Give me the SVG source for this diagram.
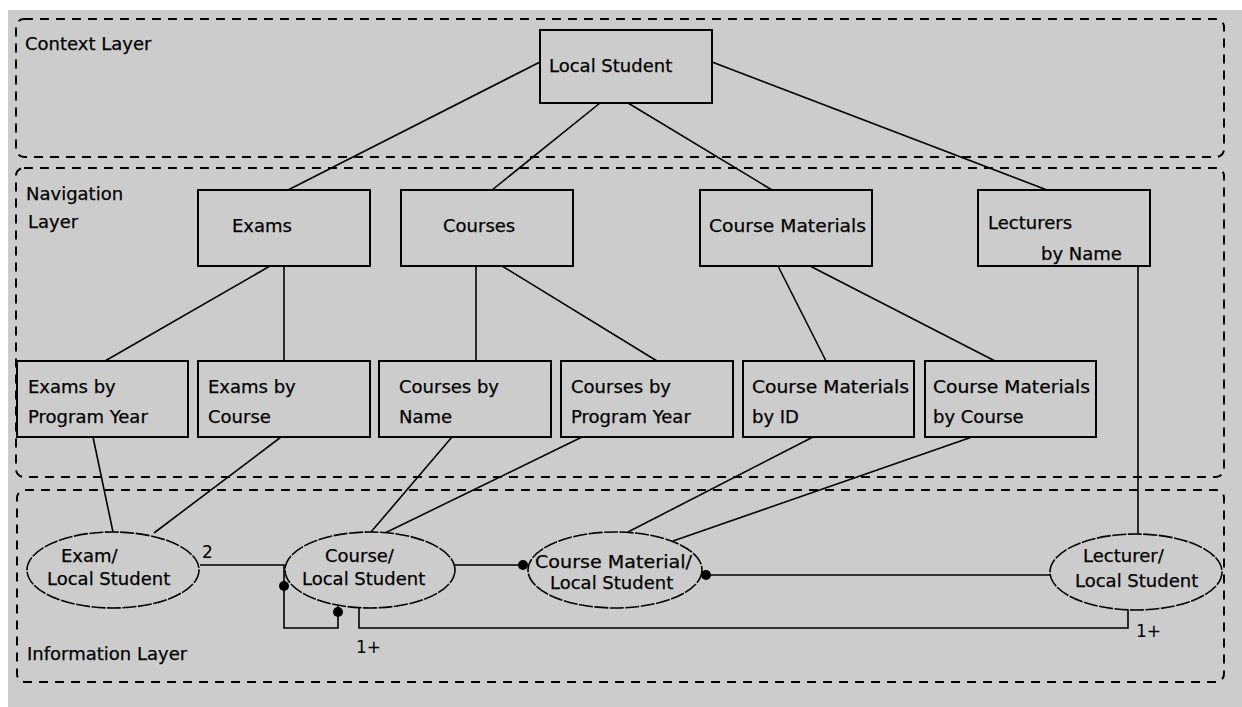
<svg xmlns="http://www.w3.org/2000/svg" width="1242" height="707" viewBox="0 0 1242 707">
<style>
.layer{fill:none;stroke:#000;stroke-width:2;stroke-dasharray:9,7}
.box{fill:#cccccc;stroke:#000;stroke-width:2}
.ell{fill:#cccccc;stroke:#000;stroke-width:1.6;stroke-dasharray:14,1.5}
.ln{fill:none;stroke:#000;stroke-width:1.6}
.t{font-family:"DejaVu Sans","Liberation Sans",sans-serif;font-size:18px;fill:#000;stroke:#000;stroke-width:0.25}
.lbl{font-family:"DejaVu Sans","Liberation Sans",sans-serif;font-size:17px;fill:#000}
.dot{fill:#000}
</style>
<rect x="8" y="10" width="1234" height="697" fill="#cccccc"/>
<g id="layers">
<rect class="layer" x="16" y="19" width="1208" height="138" rx="8"/>
<rect class="layer" x="16" y="168" width="1208" height="309" rx="8"/>
<rect class="layer" x="17" y="490" width="1207" height="192" rx="8"/>
<text class="t" x="25" y="50">Context Layer</text>
<text class="t" x="26" y="200">Navigation</text>
<text class="t" x="28" y="228">Layer</text>
<text class="t" x="27" y="660">Information Layer</text>
</g>
<g id="connectors">
<line class="ln" x1="540" y1="62" x2="288" y2="190"/>
<line class="ln" x1="600" y1="103" x2="492" y2="190"/>
<line class="ln" x1="628" y1="103" x2="772" y2="190"/>
<line class="ln" x1="712" y1="62" x2="1047" y2="190"/>
<line class="ln" x1="270" y1="266" x2="105" y2="361"/>
<line class="ln" x1="284" y1="266" x2="284" y2="361"/>
<line class="ln" x1="476" y1="266" x2="476" y2="361"/>
<line class="ln" x1="502" y1="266" x2="657" y2="361"/>
<line class="ln" x1="778" y1="266" x2="826" y2="361"/>
<line class="ln" x1="810" y1="266" x2="995" y2="361"/>
<line class="ln" x1="1138" y1="266" x2="1138" y2="534"/>
<line class="ln" x1="93" y1="437" x2="113" y2="532"/>
<line class="ln" x1="281" y1="437" x2="154" y2="533"/>
<line class="ln" x1="452" y1="437" x2="371" y2="532"/>
<line class="ln" x1="582" y1="437" x2="385" y2="533"/>
<line class="ln" x1="813" y1="437" x2="628" y2="532"/>
<line class="ln" x1="972" y1="437" x2="673" y2="541"/>
<polyline class="ln" points="200,565 284,565 284,628 338,628 338,606"/>
<circle class="dot" cx="284" cy="586" r="5"/>
<circle class="dot" cx="338" cy="612" r="5"/>
<line class="ln" x1="455" y1="565" x2="523" y2="565"/>
<circle class="dot" cx="523" cy="565" r="5"/>
<line class="ln" x1="706" y1="575" x2="1051" y2="575"/>
<circle class="dot" cx="706" cy="575" r="5"/>
<polyline class="ln" points="359,608 359,628 1128,628 1128,609"/>
<text class="lbl" x="202" y="558">2</text>
<text class="lbl" x="356" y="653">1+</text>
<text class="lbl" x="1136" y="637">1+</text>
</g>
<g id="local-student">
<rect class="box" x="540" y="30" width="172" height="73"/>
<text class="t" x="549" y="72">Local Student</text>
</g>
<g id="exams">
<rect class="box" x="198" y="190" width="172" height="76"/>
<text class="t" x="232" y="232">Exams</text>
</g>
<g id="courses">
<rect class="box" x="401" y="190" width="172" height="76"/>
<text class="t" x="443" y="232">Courses</text>
</g>
<g id="course-materials">
<rect class="box" x="700" y="190" width="172" height="76"/>
<text class="t" x="709" y="232" textLength="157" lengthAdjust="spacingAndGlyphs">Course Materials</text>
</g>
<g id="lecturers-by-name">
<rect class="box" x="978" y="190" width="172" height="76"/>
<text class="t" x="988" y="229">Lecturers</text>
<text class="t" x="1041" y="260">by Name</text>
</g>
<g id="exams-by-program-year">
<rect class="box" x="17" y="361" width="171" height="76"/>
<text class="t" x="28" y="393">Exams by</text>
<text class="t" x="28" y="423">Program Year</text>
</g>
<g id="exams-by-course">
<rect class="box" x="198" y="361" width="172" height="76"/>
<text class="t" x="208" y="393">Exams by</text>
<text class="t" x="208" y="423">Course</text>
</g>
<g id="courses-by-name">
<rect class="box" x="379" y="361" width="172" height="76"/>
<text class="t" x="399" y="393">Courses by</text>
<text class="t" x="399" y="423">Name</text>
</g>
<g id="courses-by-program-year">
<rect class="box" x="561" y="361" width="172" height="76"/>
<text class="t" x="571" y="393">Courses by</text>
<text class="t" x="571" y="423">Program Year</text>
</g>
<g id="course-materials-by-id">
<rect class="box" x="743" y="361" width="171" height="76"/>
<text class="t" x="752" y="393" textLength="157" lengthAdjust="spacingAndGlyphs">Course Materials</text>
<text class="t" x="752" y="423">by ID</text>
</g>
<g id="course-materials-by-course">
<rect class="box" x="925" y="361" width="171" height="76"/>
<text class="t" x="933" y="393" textLength="157" lengthAdjust="spacingAndGlyphs">Course Materials</text>
<text class="t" x="933" y="423">by Course</text>
</g>
<g id="exam-local-student">
<ellipse class="ell" cx="113" cy="570" rx="86" ry="38"/>
<text class="t" x="61" y="562">Exam/</text>
<text class="t" x="47" y="585">Local Student</text>
</g>
<g id="course-local-student">
<ellipse class="ell" cx="370" cy="570" rx="85" ry="38"/>
<text class="t" x="325" y="562">Course/</text>
<text class="t" x="302" y="585">Local Student</text>
</g>
<g id="course-material-local-student">
<ellipse class="ell" cx="615" cy="570" rx="87" ry="38"/>
<text class="t" x="535" y="568" textLength="157" lengthAdjust="spacingAndGlyphs">Course Material/</text>
<text class="t" x="550" y="589">Local Student</text>
</g>
<g id="lecturer-local-student">
<ellipse class="ell" cx="1136" cy="572" rx="86" ry="38"/>
<text class="t" x="1083" y="562">Lecturer/</text>
<text class="t" x="1075" y="587">Local Student</text>
</g>
</svg>
